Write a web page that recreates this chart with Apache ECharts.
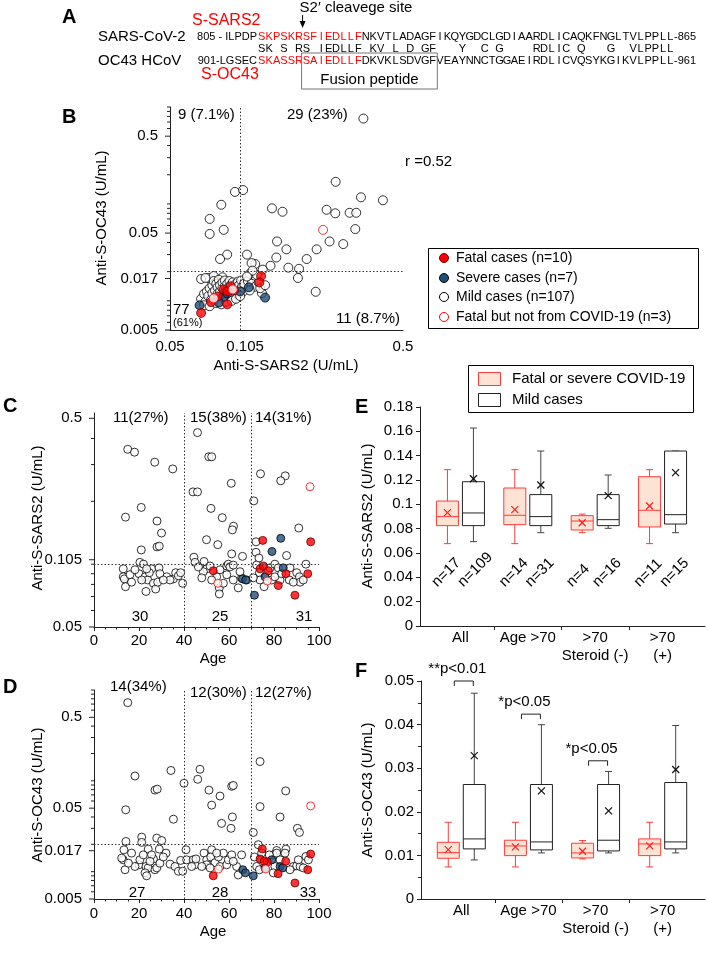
<!DOCTYPE html>
<html><head><meta charset="utf-8">
<script src="https://cdn.jsdelivr.net/npm/echarts@6.0.0/dist/echarts.min.js"></script>
<style>html,body{margin:0;padding:0;background:#fff}#c{width:708px;height:963px}</style>
</head><body><div id="c"></div>
<script>
const FONT = 'Arial, "Liberation Sans", Helvetica, sans-serif';
const AX = '#222';

// ---------- Panel A: sequences ----------
const seqSars2Prefix = '805 - ILPDP';
const seqSars2 = 'SKPSKRSFIEDLLFNKVTLADAGFIKQYGDCLGDIAARDLICAQKFNGLTVLPPLL';
const seqSars2Suffix = '-865';
const seqOc43Prefix = '901-LGSEC';
const seqOc43 = 'SKASSRSAIEDLLFDKVKLSDVGFVEAYNNCTGGAEIRDLICVQSYKGIKVLPPLL';
const seqOc43Suffix = '-961';
const redResidues = 14;
const fusionFrom = 6, fusionTo = 24;

// ---------- Panel B: anti-S-SARS2 (x) vs anti-S-OC43 (y) ----------
const bMild = [
[0.338,0.76],[0.257,0.169],[0.33,0.117],[0.41,0.109],[0.235,0.087],[0.256,0.08],[0.295,0.081],[0.315,0.081],
[0.312,0.055],[0.242,0.041],[0.277,0.0385],[0.213,0.034],[0.193,0.027],[0.179,0.0214],[0.177,0.0172],[0.211,0.0124],
[0.158,0.034],[0.144,0.041],[0.143,0.028],[0.161,0.022],[0.135,0.023],[0.137,0.09],[0.152,0.083],[0.116,0.024],
[0.112,0.0245],[0.107,0.030],[0.095,0.133],[0.103,0.139],[0.083,0.098],[0.074,0.07],[0.074,0.049],[0.085,0.054],
[0.088,0.030],[0.082,0.027],[0.073,0.0172],[0.077,0.018],[0.084,0.0175],[0.079,0.0158],
[0.068,0.0105],[0.070,0.0118],[0.071,0.0098],[0.072,0.0125],[0.073,0.0112],[0.074,0.0135],[0.075,0.0102],[0.076,0.0145],
[0.076,0.0120],[0.077,0.0160],[0.078,0.0128],[0.078,0.0108],[0.079,0.0150],[0.080,0.0138],[0.080,0.0118],[0.081,0.0165],
[0.082,0.0125],[0.082,0.0145],[0.083,0.0105],[0.084,0.0135],[0.084,0.0155],[0.085,0.0118],[0.086,0.0142],[0.086,0.0162],
[0.087,0.0128],[0.088,0.0110],[0.088,0.0150],[0.089,0.0135],[0.090,0.0122],[0.090,0.0160],[0.091,0.0145],[0.092,0.0130],
[0.093,0.0115],[0.093,0.0155],[0.094,0.0140],[0.095,0.0125],[0.096,0.0150],[0.097,0.0135],[0.098,0.0118],[0.098,0.0158],
[0.099,0.0145],[0.100,0.0130],[0.101,0.0162],[0.102,0.0140],[0.103,0.0125],[0.104,0.0150],[0.070,0.0090],[0.074,0.0088],
[0.079,0.0095],[0.083,0.0092],[0.087,0.0098],[0.092,0.0100],[0.096,0.0105],[0.100,0.0112],
[0.108,0.0160],[0.112,0.0150],[0.116,0.0140],[0.120,0.0155],[0.124,0.0120],[0.122,0.0135],[0.110,0.0128],[0.128,0.0145],
[0.068,0.0168],[0.071,0.0172],[0.110,0.019],[0.118,0.0185],[0.125,0.021],[0.113,0.0205],[0.107,0.0178]
];
const bSevere = [[0.067,0.009],[0.085,0.011],[0.081,0.0096],[0.109,0.0138],[0.128,0.0108],[0.088,0.0119],[0.100,0.0125]];
const bFatal = [[0.123,0.018],[0.121,0.0155],[0.091,0.0141],[0.094,0.0128],[0.085,0.0131],[0.088,0.0125],[0.075,0.0097],[0.088,0.0092],[0.068,0.0075],[0.080,0.0111]];
const bFatalOther = [[0.077,0.0106],[0.227,0.054],[0.093,0.0131]];
const bXTicks = [0.05, 0.105, 0.5];
const bYTicks = [0.005, 0.017, 0.05, 0.5];
const bCutX = 0.105, bCutY = 0.017;

// ---------- Panel C: age vs anti-S-SARS2 ----------
const cMild = [
[46,0.427],[15,0.355],[18,0.344],[27,0.308],[35,0.286],[51,0.327],[52.3,0.327],[74,0.271],[85,0.265],[83,0.251],
[61,0.244],[44,0.222],[46,0.222],[71,0.201],[21,0.187],[14,0.168],[52,0.185],[57,0.167],[28,0.161],[30,0.141],
[62,0.152],[61.5,0.146],[91,0.149],[28,0.121],[29,0.122],[50,0.131],[55,0.124],[21,0.117],[72,0.128],
[44.4,0.108],[61.2,0.112],[66,0.109],[72,0.114],[85.6,0.110],[73.3,0.107],
[13,0.095],[13,0.087],[13.5,0.085],[14,0.078],[20.4,0.102],[22,0.100],[20,0.090],[22.7,0.087],[23.9,0.084],[23.1,0.074],
[25.6,0.095],[26.4,0.081],[27.4,0.076],[28.3,0.082],[28.9,0.096],[32.3,0.087],[35.3,0.085],[36.3,0.091],[37.5,0.088],[38.5,0.091],
[39.4,0.081],[16,0.089],[18.2,0.094],[24.6,0.091],[29.3,0.090],[33.8,0.084],[16.7,0.082],[21.2,0.084],[30.8,0.084],[23.4,0.095],
[44.9,0.102],[48.9,0.103],[50.1,0.095],[51.6,0.098],[56,0.094],[59,0.098],[59.7,0.100],[60.4,0.097],[55.7,0.077],[55.7,0.072],
[59,0.089],[61.9,0.084],[64.1,0.077],[65.6,0.086],[61.9,0.099],[67.9,0.084],[48.6,0.092],[46.4,0.097],[54.5,0.087],[57.5,0.081],
[52.3,0.084],[64.9,0.092],[47.9,0.086],
[72.3,0.099],[73.5,0.091],[78.2,0.096],[80.4,0.100],[81.9,0.096],[82.7,0.084],[86.8,0.084],[90.1,0.091],[91.3,0.087],[91.6,0.082],
[94.2,0.100],[93,0.084],[79,0.084],[80.4,0.087],[87.1,0.096],[88.6,0.082],[73.8,0.084],[75.6,0.078],[83.4,0.090],[70.8,0.086]
];
const cSevere = [[66,0.085],[67.4,0.084],[83,0.133],[79.1,0.115],[84.1,0.096],[71.3,0.071],[76,0.087]];
const cFatal = [[53,0.093],[75,0.13],[96.3,0.128],[73.8,0.095],[75.3,0.098],[77.5,0.093],[85.3,0.090],[81.9,0.079],[89.3,0.071],[95,0.090]];
const cFatalOther = [[55,0.081],[96,0.235],[77,0.083]];
const cYTicks = [0.05, 0.105, 0.5];
const ageCuts = [40, 70];

// ---------- Panel D: age vs anti-S-OC43 ----------
const dMild = [
[15,0.725],[18.2,0.113],[34.2,0.130],[14.1,0.048],[27.1,0.079],[28.1,0.081],[35.3,0.0378],[21.2,0.024],[21.2,0.021],[27.9,0.0234],
[30.1,0.022],[14.2,0.0215],[24.1,0.0177],[29,0.0177],
[13,0.0135],[13.8,0.0105],[12.3,0.0141],[20,0.0119],[23.1,0.0114],[24.1,0.011],[22.7,0.0097],[23.4,0.009],[27.1,0.0105],[27.9,0.011],
[29.3,0.0124],[26.4,0.0138],[32,0.016],[33.8,0.0121],[36,0.0114],[37.5,0.0101],[39.4,0.0101],[38.5,0.0133],[20.4,0.0135],[21.9,0.0153],
[25.6,0.0153],[30.8,0.0145],[18.2,0.0114],[15.3,0.0124],[16.7,0.016],[24.9,0.013],[13.3,0.0174],
[47.1,0.134],[46.1,0.104],[51.1,0.079],[56,0.068],[52.3,0.054],[61.2,0.087],[61.9,0.089],[56.7,0.034],[61.5,0.040],[60.9,0.030],
[40,0.094],[52.3,0.0174],
[40.9,0.0174],[41.2,0.0135],[44.1,0.0135],[44.9,0.0119],[45.3,0.0138],[48.9,0.016],[50.1,0.0135],[50.1,0.0119],[51.9,0.0145],[53.8,0.0126],
[55.3,0.0145],[56,0.0114],[59,0.0119],[59.7,0.0135],[61.2,0.0153],[63.4,0.0114],[65.6,0.0153],[64.1,0.0092],[57.5,0.016],[54.5,0.016],
[47.9,0.0114],[43.4,0.0114],[51.6,0.011],[61.9,0.013],
[73.8,0.163],[73.8,0.052],[85.2,0.0775],[82.7,0.040],[90.4,0.030],[91.3,0.027],[70.8,0.027],[73,0.0198],[85.3,0.0177],[81.2,0.0171],
[71.3,0.0145],[72.3,0.0114],[79.7,0.0153],[80.4,0.0114],[81.2,0.016],[82.7,0.0135],[88.6,0.0114],[90.1,0.0116],[91.6,0.0114],[94.2,0.0147],
[93,0.011],[74.5,0.016],[87.1,0.0105],[84.9,0.016],[95.3,0.0135],[73.5,0.0105],[77.9,0.0153],[90.8,0.0135],[79.7,0.0097]
];
const dSevere = [[66.1,0.0105],[67.3,0.0097],[70.8,0.009],[79,0.0135],[82.7,0.0114],[83.9,0.011],[76,0.011]];
const dFatal = [[53,0.009],[74.8,0.0178],[73.8,0.0138],[77,0.0128],[85.2,0.013],[81.8,0.0095],[89.3,0.0075],[95,0.0105],[96.3,0.0156],[75.6,0.013]];
const dFatalOther = [[55.3,0.0107],[96.3,0.053],[76.3,0.0107]];
const dYTicks = [0.005, 0.017, 0.05, 0.5];

// ---------- Panels E/F: box plots [min, q1, median, q3, max, mean] ----------
const groupLabels = ['All', 'Age >70', '>70\nSteroid (-)', '>70\n(+)'];
const eSevere = [[0.0677,0.0825,0.0899,0.1027,0.1285,0.0932],[0.0677,0.0833,0.091,0.1134,0.1285,0.0956],[0.0767,0.0789,0.0863,0.0907,0.092,0.0849],[0.0677,0.0814,0.0951,0.1227,0.1285,0.0986]];
const eMild = [[0.0693,0.0825,0.0929,0.1186,0.1627,0.121],[0.0767,0.0825,0.0899,0.108,0.1438,0.1159],[0.0803,0.0825,0.0874,0.108,0.1241,0.1071],[0.0767,0.0838,0.0915,0.1438,0.1438,0.126]];
const nSevere = [17, 14, 4, 11];
const nMild = [109, 31, 16, 15];
const fSevere = [[0.00735,0.00934,0.01064,0.0130,0.0176,0.01133],[0.00735,0.00995,0.01217,0.01348,0.0176,0.01195],[0.00919,0.00942,0.01057,0.01279,0.0134,0.01095],[0.00735,0.00995,0.01263,0.01378,0.0176,0.01217]];
const fMild = [[0.00896,0.01149,0.01378,0.02626,0.0472,0.0329],[0.01057,0.01126,0.01309,0.02626,0.03997,0.0248],[0.01057,0.01103,0.01348,0.02626,0.02925,0.0202],[0.01057,0.01149,0.01309,0.02672,0.0398,0.0297]];
const sigGroups = [0, 1, 2];
const sigLevels = [0.05, 0.0424, 0.0317];
const sigLabels = ['**p<0.01', '*p<0.05', '*p<0.05'];

// ---------- helpers ----------
function logMinors(lo, hi, skip) {
  const out = [];
  for (let e = -4; e <= 1; e++) for (let k = 1; k <= 9; k++) {
    const v = +(k * Math.pow(10, e)).toPrecision(3);
    if (v >= lo - 1e-12 && v <= hi + 1e-12 && skip.indexOf(v) < 0) out.push(v);
  }
  return out;
}
function txt(x, y, text, style, extra) {
  return Object.assign({type: 'text', x, y, silent: true,
    style: Object.assign({text, font: '15px ' + FONT, fill: '#000', align: 'left', verticalAlign: 'middle'}, style || {})}, extra || {});
}
const sym = {
  mild: {color: '#fff', borderColor: '#000', borderWidth: 1},
  severe: {color: '#1f4e79', borderColor: '#000', borderWidth: 1},
  fatal: {color: '#ff0000', borderColor: '#600', borderWidth: 1},
  other: {color: '#fff', borderColor: '#ff0000', borderWidth: 1}
};
function scatterSet(gi, mild, severe, fatal, other, size, markData) {
  return [
    {type: 'scatter', xAxisIndex: gi, yAxisIndex: gi, data: mild, symbolSize: size, itemStyle: sym.mild, z: 2,
      markLine: {silent: true, symbol: ['none', 'none'], label: {show: false}, animation: false,
        lineStyle: {type: [1.5, 2], color: '#333', width: 1}, data: markData}},
    {type: 'scatter', xAxisIndex: gi, yAxisIndex: gi, data: severe, symbolSize: size, itemStyle: sym.severe, z: 3},
    {type: 'scatter', xAxisIndex: gi, yAxisIndex: gi, data: fatal, symbolSize: size, itemStyle: sym.fatal, z: 4},
    {type: 'scatter', xAxisIndex: gi, yAxisIndex: gi, data: other, symbolSize: size, itemStyle: sym.other, z: 5}
  ];
}
function yTickSeries(gi, xAt, majors, minors) {
  const data = majors.map(v => [xAt, v, 1]).concat(minors.map(v => [xAt, v, 0]));
  return {type: 'custom', xAxisIndex: gi, yAxisIndex: gi, silent: true, clip: false, z: 6,
    encode: {x: 0, y: 1}, data,
    renderItem(params, api) {
      const v = api.value(1), major = api.value(2) === 1;
      const p = api.coord([api.value(0), v]);
      const len = major ? 5 : 3;
      const ch = [{type: 'line', shape: {x1: p[0] - len, y1: p[1], x2: p[0], y2: p[1]}, style: {stroke: AX, lineWidth: 1}}];
      if (major) ch.push({type: 'text', x: p[0] - len - 7, y: p[1],
        style: {text: String(v), font: '15px ' + FONT, fill: '#000', align: 'right', verticalAlign: 'middle'}});
      return {type: 'group', children: ch};
    }};
}
function xTickSeries(gi, yAt, majors) {
  return {type: 'custom', xAxisIndex: gi, yAxisIndex: gi, silent: true, clip: false, z: 6,
    encode: {x: 0, y: 1}, data: majors.map(v => [v, yAt]),
    renderItem(params, api) {
      const p = api.coord([api.value(0), api.value(1)]);
      return {type: 'text', x: p[0], y: p[1] + 9,
        style: {text: String(api.value(0)), font: '15px ' + FONT, fill: '#000', align: 'center', verticalAlign: 'top'}};
    }};
}
const boxStyle = {
  severe: {line: '#ff3b3b', fill: '#fde3d3', whisker: '#ff3b3b', mean: '#ff2020'},
  mild: {line: '#222', fill: '#fff', whisker: '#444', mean: '#111'}
};
function boxSeries(gi, rows, offset, st) {
  return {type: 'custom', xAxisIndex: gi, yAxisIndex: gi, silent: true, z: 3,
    encode: {x: 0, y: [1, 2, 3, 4, 5, 6]},
    data: rows.map((r, i) => [i].concat(r)),
    renderItem(params, api) {
      const g = api.value(0) + 0.5;
      const cx = api.coord([g, 0])[0] + offset;
      const Y = k => api.coord([g, api.value(k)])[1];
      const yMin = Y(1), yQ1 = Y(2), yMed = Y(3), yQ3 = Y(4), yMax = Y(5), yMean = Y(6);
      const hw = 11, cw = 3.5, m = 3.5;
      const ws = {stroke: st.whisker, lineWidth: 1};
      return {type: 'group', children: [
        {type: 'line', shape: {x1: cx, y1: yQ3, x2: cx, y2: yMax}, style: ws},
        {type: 'line', shape: {x1: cx, y1: yQ1, x2: cx, y2: yMin}, style: ws},
        {type: 'line', shape: {x1: cx - cw, y1: yMax, x2: cx + cw, y2: yMax}, style: ws},
        {type: 'line', shape: {x1: cx - cw, y1: yMin, x2: cx + cw, y2: yMin}, style: ws},
        {type: 'rect', shape: {x: cx - hw, y: yQ3, width: 2 * hw, height: yQ1 - yQ3}, style: {fill: st.fill, stroke: st.line, lineWidth: 1}},
        {type: 'line', shape: {x1: cx - hw, y1: yMed, x2: cx + hw, y2: yMed}, style: {stroke: st.line, lineWidth: 1}},
        {type: 'line', shape: {x1: cx - m, y1: yMean - m, x2: cx + m, y2: yMean + m}, style: {stroke: st.mean, lineWidth: 1.2}},
        {type: 'line', shape: {x1: cx - m, y1: yMean + m, x2: cx + m, y2: yMean - m}, style: {stroke: st.mean, lineWidth: 1.2}}
      ]};
    }};
}
function nSeries(gi, ns, offset, yAt) {
  return {type: 'custom', xAxisIndex: gi, yAxisIndex: gi, silent: true, clip: false, z: 4,
    encode: {x: 0, y: 1}, data: ns.map((n, i) => [i, yAt, n]),
    renderItem(params, api) {
      const p = api.coord([api.value(0) + 0.5, api.value(1)]);
      return {type: 'text', x: p[0] + offset - 13, y: p[1], rotation: Math.PI / 4,
        style: {text: 'n=' + api.value(2), font: '15px ' + FONT, fill: '#000', align: 'left', verticalAlign: 'middle'}};
    }};
}
function sigSeries(gi) {
  return {type: 'custom', xAxisIndex: gi, yAxisIndex: gi, silent: true, clip: false, z: 4,
    encode: {x: 0, y: 1}, data: sigGroups.map((g, i) => [g, sigLevels[i]]),
    renderItem(params, api) {
      const p = api.coord([api.value(0) + 0.5, api.value(1)]);
      const l = p[0] - 7, r = p[0] + 12, y = p[1];
      return {type: 'group', children: [
        {type: 'polyline', shape: {points: [[l, y + 5], [l, y], [r, y], [r, y + 5]]}, style: {stroke: '#222', lineWidth: 1, fill: null}},
        {type: 'text', x: p[0] - 4, y: y - 12, style: {text: sigLabels[params.dataIndex], font: '15px ' + FONT, fill: '#000', align: 'center', verticalAlign: 'middle'}}
      ]};
    }};
}

// ---------- Panel A graphics ----------
const gA = [];
const col0 = 258, pitch = 7.43, seqFont = '11px ' + FONT;
function seqRow(prefix, seq, suffix, y, redN) {
  gA.push(txt(col0 - 1, y, prefix, {font: seqFont, align: 'right'}));
  for (let i = 0; i < seq.length; i++) {
    gA.push(txt(col0 + (i + 0.5) * pitch, y, seq[i], {font: seqFont, align: 'center', fill: i < redN ? '#ff0000' : '#000'}));
  }
  gA.push(txt(col0 + seq.length * pitch, y, suffix, {font: seqFont}));
}
seqRow(seqSars2Prefix, seqSars2, seqSars2Suffix, 37, redResidues);
seqRow(seqOc43Prefix, seqOc43, seqOc43Suffix, 61, redResidues);
for (let i = 0; i < seqSars2.length; i++) {
  if (seqSars2[i] === seqOc43[i]) gA.push(txt(col0 + (i + 0.5) * pitch, 49, seqSars2[i], {font: seqFont, align: 'center'}));
}
const cleaveX = col0 + fusionFrom * pitch;
gA.push(
  txt(62, 17, 'A', {font: 'bold 20px ' + FONT}),
  txt(98, 37, 'SARS-CoV-2', {font: '15px ' + FONT}),
  txt(98, 61, 'OC43 HCoV', {font: '15px ' + FONT}),
  txt(192, 21, 'S-SARS2', {font: '16px ' + FONT, fill: '#ff0000'}),
  txt(201, 75, 'S-OC43', {font: '16px ' + FONT, fill: '#ff0000'}),
  txt(cleaveX - 3, 8, "S2\u2032 cleavege site", {font: '15px ' + FONT}),
  {type: 'line', silent: true, shape: {x1: cleaveX, y1: 15, x2: cleaveX, y2: 26}, style: {stroke: '#000', lineWidth: 1}},
  {type: 'polygon', silent: true, shape: {points: [[cleaveX - 3, 21], [cleaveX + 3, 21], [cleaveX, 28]]}, style: {fill: '#000'}},
  {type: 'rect', silent: true, shape: {x: col0 + fusionFrom * pitch - 1, y: 53, width: (fusionTo - fusionFrom) * pitch + 2, height: 36}, style: {fill: null, stroke: '#777', lineWidth: 1}},
  txt(col0 + (fusionFrom + fusionTo) / 2 * pitch, 80, 'Fusion peptide', {font: '15px ' + FONT, align: 'center'})
);

// ---------- other annotations ----------
const rot = {rotation: Math.PI / 2};
const gOther = [
  txt(62, 117, 'B', {font: 'bold 20px ' + FONT}),
  txt(3, 406, 'C', {font: 'bold 20px ' + FONT}),
  txt(3, 687, 'D', {font: 'bold 20px ' + FONT}),
  txt(355, 407, 'E', {font: 'bold 20px ' + FONT}),
  txt(355, 671, 'F', {font: 'bold 20px ' + FONT}),
  // B
  txt(178, 115, '9 (7.1%)'), txt(287, 115, '29 (23%)'),
  txt(173, 310, '77'), txt(173, 323, '(61%)', {font: '11px ' + FONT}),
  txt(400, 319, '11 (8.7%)', {align: 'right'}),
  txt(405, 162, 'r =0.52'),
  txt(102, 218, 'Anti-S-OC43 (U/mL)', {align: 'center'}, rot),
  txt(286, 366, 'Anti-S-SARS2 (U/mL)', {align: 'center'}),
  // C
  txt(113, 418, '11(27%)'), txt(190, 418, '15(38%)'), txt(255, 418, '14(31%)'),
  txt(140, 617, '30', {align: 'center'}), txt(220, 617, '25', {align: 'center'}), txt(304, 617, '31', {align: 'center'}),
  txt(38, 518, 'Anti-S-SARS2 (U/mL)', {align: 'center'}, rot),
  txt(213, 659, 'Age', {align: 'center'}),
  // D
  txt(110, 687, '14(34%)'), txt(190, 693, '12(30%)'), txt(255, 693, '12(27%)'),
  txt(137, 893, '27', {align: 'center'}), txt(220, 893, '28', {align: 'center'}), txt(308, 893, '33', {align: 'center'}),
  txt(38, 795, 'Anti-S-OC43 (U/mL)', {align: 'center'}, rot),
  txt(213, 932, 'Age', {align: 'center'}),
  // E/F
  txt(368, 516, 'Anti-S-SARS2 (U/mL)', {align: 'center'}, rot),
  txt(368, 790, 'Anti-S-OC43 (U/mL)', {align: 'center'}, rot),
  // legend B
  {type: 'rect', silent: true, shape: {x: 428.5, y: 248.5, width: 270, height: 80}, style: {fill: '#fff', stroke: '#000', lineWidth: 1}, z: 10},
  {type: 'circle', silent: true, shape: {cx: 444, cy: 258, r: 4.5}, style: {fill: '#ff0000', stroke: '#600'}, z: 11},
  {type: 'circle', silent: true, shape: {cx: 444, cy: 278, r: 4.5}, style: {fill: '#1f4e79', stroke: '#000'}, z: 11},
  {type: 'circle', silent: true, shape: {cx: 444, cy: 297, r: 4.5}, style: {fill: '#fff', stroke: '#000'}, z: 11},
  {type: 'circle', silent: true, shape: {cx: 444, cy: 317, r: 4.5}, style: {fill: '#fff', stroke: '#ff0000'}, z: 11},
  txt(456, 258, 'Fatal cases (n=10)', {font: '14px ' + FONT}, {z: 11}),
  txt(456, 278, 'Severe cases (n=7)', {font: '14px ' + FONT}, {z: 11}),
  txt(456, 297, 'Mild cases (n=107)', {font: '14px ' + FONT}, {z: 11}),
  txt(456, 317, 'Fatal but not from COVID-19 (n=3)', {font: '14px ' + FONT}, {z: 11}),
  // legend E
  {type: 'rect', silent: true, shape: {x: 468.5, y: 365.5, width: 225, height: 47}, style: {fill: '#fff', stroke: '#000', lineWidth: 1}, z: 10},
  {type: 'rect', silent: true, shape: {x: 478.5, y: 372.5, width: 22, height: 13}, style: {fill: '#fde3d3', stroke: '#ff3b3b'}, z: 11},
  {type: 'rect', silent: true, shape: {x: 478.5, y: 393.5, width: 22, height: 13}, style: {fill: '#fff', stroke: '#222'}, z: 11},
  txt(512, 379, 'Fatal or severe COVID-19', {}, {z: 11}),
  txt(512, 400, 'Mild cases', {}, {z: 11})
];

// ---------- axes ----------
const logAxis = (gi, min, max) => ({type: 'log', logBase: 10, gridIndex: gi, min, max,
  axisLine: {show: true, onZero: false, lineStyle: {color: AX, width: 1}},
  axisTick: {show: false}, axisLabel: {show: false}, splitLine: {show: false}});
const ageAxis = (gi, margin) => ({type: 'value', gridIndex: gi, min: 0, max: 100, interval: 20,
  axisLine: {onZero: false, lineStyle: {color: AX}},
  axisTick: {show: true, length: 4, lineStyle: {color: AX}},
  minorTick: {show: true, splitNumber: 4, length: 2.5, lineStyle: {color: AX}},
  axisLabel: {fontSize: 15, color: '#000', margin, fontFamily: FONT},
  splitLine: {show: false}});
const groupAxis = (gi) => ({type: 'value', gridIndex: gi, min: -0.1, max: 4.13,
  axisLine: {onZero: false, lineStyle: {color: AX}},
  axisTick: {show: true, customValues: [1, 2, 3], length: 4, lineStyle: {color: AX}},
  axisLabel: {customValues: [0.5, 1.5, 2.5, 3.5], formatter: v => groupLabels[Math.floor(v)],
    fontSize: 15, color: '#000', margin: 3, lineHeight: 18, fontFamily: FONT},
  splitLine: {show: false}});
const valAxis = (gi, max, interval, minor) => ({type: 'value', gridIndex: gi, min: 0, max, interval,
  axisLine: {show: true, onZero: false, lineStyle: {color: AX}},
  axisTick: {show: true, length: 4, lineStyle: {color: AX}},
  minorTick: {show: minor, splitNumber: 2, length: 3, lineStyle: {color: AX}},
  axisLabel: {fontSize: 15, color: '#000', margin: 7, fontFamily: FONT, formatter: v => String(+v.toFixed(3))},
  splitLine: {show: false}});

const chart = echarts.init(document.getElementById('c'), null, {renderer: 'canvas'});
chart.setOption({
  animation: false,
  backgroundColor: '#fff',
  textStyle: {fontFamily: FONT},
  grid: [
    {left: 170, top: 107, width: 233, height: 223},
    {left: 94, top: 413, width: 225, height: 214},
    {left: 94, top: 690, width: 225, height: 209},
    {left: 420, top: 407, width: 285, height: 219},
    {left: 421, top: 681, width: 284, height: 218}
  ],
  xAxis: [logAxis(0, 0.05, 0.5), ageAxis(1, 6), ageAxis(2, 7), groupAxis(3), groupAxis(4)],
  yAxis: [logAxis(0, 0.005, 1), logAxis(1, 0.05, 0.53), logAxis(2, 0.005, 1), valAxis(3, 0.18, 0.02, false), valAxis(4, 0.05, 0.01, true)],
  graphic: {elements: gA.concat(gOther)},
  series: [].concat(
    scatterSet(0, bMild, bSevere, bFatal, bFatalOther, 9, [{xAxis: bCutX}, {yAxis: bCutY}]),
    scatterSet(1, cMild, cSevere, cFatal, cFatalOther, 8, [{xAxis: ageCuts[0]}, {xAxis: ageCuts[1]}, {yAxis: 0.105}]),
    scatterSet(2, dMild, dSevere, dFatal, dFatalOther, 8, [{xAxis: ageCuts[0]}, {xAxis: ageCuts[1]}, {yAxis: 0.017}]),
    [
      yTickSeries(0, 0.05, bYTicks, logMinors(0.005, 1, bYTicks)),
      xTickSeries(0, 0.005, bXTicks),
      yTickSeries(1, 0, cYTicks, logMinors(0.05, 0.53, cYTicks)),
      yTickSeries(2, 0, dYTicks, logMinors(0.005, 1, dYTicks)),
      boxSeries(3, eSevere, -13, boxStyle.severe),
      boxSeries(3, eMild, 13, boxStyle.mild),
      nSeries(3, nSevere, -13, 0.034),
      nSeries(3, nMild, 13, 0.034),
      boxSeries(4, fSevere, -13, boxStyle.severe),
      boxSeries(4, fMild, 13, boxStyle.mild),
      sigSeries(4)
    ]
  )
});
</script></body></html>
